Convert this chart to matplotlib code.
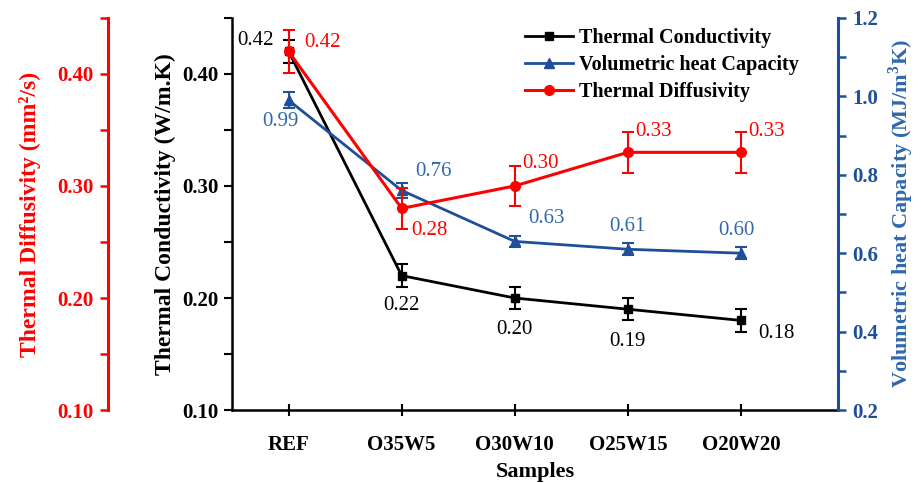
import matplotlib.pyplot as plt
from matplotlib.lines import Line2D

plt.rcParams['font.family'] = ['Liberation Serif', 'DejaVu Serif']
plt.rcParams['mathtext.fontset'] = 'custom'
plt.rcParams['mathtext.rm'] = 'Liberation Serif'
plt.rcParams['mathtext.bf'] = 'Liberation Serif:bold'

samples = ['REF', 'O35W5', 'O30W10', 'O25W15', 'O20W20']
conductivity = [0.42, 0.22, 0.20, 0.19, 0.18]
conductivity_err = [0.01, 0.01, 0.01, 0.01, 0.01]
capacity = [0.99, 0.76, 0.63, 0.61, 0.60]
capacity_err = [0.02, 0.02, 0.015, 0.015, 0.015]
diffusivity = [0.42, 0.28, 0.30, 0.33, 0.33]
diffusivity_err = [0.019, 0.018, 0.018, 0.018, 0.018]

# label offsets in pixels (dx, dy)
cond_off = [(-33, 11), (0, -30), (0, -31), (0, -32), (36, -13)]
cap_off = [(-8, -21), (32, 19), (32, 23), (0, 23), (-4, 23)]
diff_off = [(34, 9), (28, -22), (26, 22), (26, 21), (26, 21)]

RED = '#ff0000'
BLUE = '#1f4e9a'
BLUE_TXT = '#2f68ad'
TICK_FS = 15
LABEL_FS = 17
NUM_FS = 15

fig = plt.figure(figsize=(9.21, 4.83), dpi=100)
ax = fig.add_axes([0.252, 0.151, 0.658, 0.812])
ax_cap = ax.twinx()
ax_dif = ax.twinx()

x = list(range(len(samples)))

ax.errorbar(x, conductivity, yerr=conductivity_err, color='black', marker='s',
            markersize=6, lw=2, capsize=4, elinewidth=1.5, capthick=1.5)
ax_cap.errorbar(x, capacity, yerr=capacity_err, color=BLUE, marker='^',
                markersize=7, lw=2, capsize=4, elinewidth=1.5, capthick=1.5)
ax_dif.errorbar(x, diffusivity, yerr=diffusivity_err, color=RED, marker='o',
                markersize=7, lw=2.2, capsize=4, elinewidth=1.5, capthick=1.5)

for i in x:
    ax.annotate(f'{conductivity[i]:.2f}', (i, conductivity[i]), xytext=cond_off[i],
                textcoords='offset pixels', ha='center', va='center',
                fontsize=NUM_FS, color='black')
    ax_cap.annotate(f'{capacity[i]:.2f}', (i, capacity[i]), xytext=cap_off[i],
                    textcoords='offset pixels', ha='center', va='center',
                    fontsize=NUM_FS, color=BLUE_TXT)
    ax_dif.annotate(f'{diffusivity[i]:.2f}', (i, diffusivity[i]), xytext=diff_off[i],
                    textcoords='offset pixels', ha='center', va='center',
                    fontsize=NUM_FS, color=RED)

ax.set_xlim(-0.5, 4.86)
ax.set_xticks(x)
ax.set_xticklabels(samples, fontsize=TICK_FS, fontweight='bold')
ax.set_xlabel('Samples', fontsize=LABEL_FS - 1, fontweight='bold', labelpad=5)

# thermal conductivity axis
ax.set_ylim(0.10, 0.45)
ax.set_yticks([0.10, 0.20, 0.30, 0.40])
ax.set_yticks([0.15, 0.25, 0.35, 0.45], minor=True)
ax.set_yticklabels(['0.10', '0.20', '0.30', '0.40'], fontsize=TICK_FS, fontweight='bold')
ax.set_ylabel('Thermal Conductivity (W/m.K)', fontsize=LABEL_FS, fontweight='bold',
              labelpad=4)
ax.spines['top'].set_visible(False)
ax.spines['right'].set_visible(False)
ax.spines['left'].set_linewidth(1.8)
ax.spines['bottom'].set_linewidth(1.8)
ax.tick_params(axis='y', which='both', direction='out', length=6, width=1.5, pad=4)
ax.tick_params(axis='x', direction='inout', length=8, width=1.5, pad=14)

# volumetric heat capacity axis
ax_cap.set_ylim(0.2, 1.2)
ax_cap.set_yticks([0.2, 0.4, 0.6, 0.8, 1.0, 1.2])
ax_cap.set_yticks([0.3, 0.5, 0.7, 0.9, 1.1], minor=True)
ax_cap.set_yticklabels(['0.2', '0.4', '0.6', '0.8', '1.0', '1.2'], fontsize=TICK_FS,
                       fontweight='bold', color=BLUE)
ax_cap.set_ylabel('Volumetric heat Capacity (MJ/m$^\\mathbf{3}$K)', fontsize=LABEL_FS - 1,
                  fontweight='bold', color=BLUE_TXT, labelpad=6)
for s in ['top', 'left', 'bottom']:
    ax_cap.spines[s].set_visible(False)
ax_cap.spines['right'].set_color(BLUE)
ax_cap.spines['right'].set_linewidth(2.2)
ax_cap.tick_params(axis='y', which='both', direction='out', length=6, width=1.8,
                   color=BLUE, pad=4)

# thermal diffusivity axis, pushed out to the left
ax_dif.set_ylim(0.10, 0.45)
ax_dif.yaxis.set_label_position('left')
ax_dif.yaxis.set_ticks_position('left')
ax_dif.spines['left'].set_position(('axes', -0.205))
for s in ['top', 'right', 'bottom']:
    ax_dif.spines[s].set_visible(False)
ax_dif.spines['left'].set_color(RED)
ax_dif.spines['left'].set_linewidth(2.2)
ax_dif.set_yticks([0.10, 0.20, 0.30, 0.40])
ax_dif.set_yticks([0.15, 0.25, 0.35, 0.45], minor=True)
ax_dif.set_yticklabels(['0.10', '0.20', '0.30', '0.40'], fontsize=TICK_FS,
                       fontweight='bold', color=RED)
ax_dif.set_ylabel('Thermal Diffusivity (mm²/s)', fontsize=LABEL_FS, fontweight='bold',
                  color=RED, labelpad=12)
ax_dif.tick_params(axis='y', which='both', direction='out', length=6, width=1.8,
                   color=RED, pad=4)

handles = [
    Line2D([], [], color='black', marker='s', markersize=6, lw=2),
    Line2D([], [], color=BLUE, marker='^', markersize=7, lw=2),
    Line2D([], [], color=RED, marker='o', markersize=7, lw=2.2),
]
names = ['Thermal Conductivity', 'Volumetric heat Capacity', 'Thermal Diffusivity']
ax_dif.legend(handles, names, loc='upper left', bbox_to_anchor=(0.47, 0.995),
              frameon=False, prop={'weight': 'bold', 'size': 14.5}, handlelength=2.4,
              handletextpad=0.3, labelspacing=0.35, borderaxespad=0)

fig.savefig('out.png', dpi=100)
